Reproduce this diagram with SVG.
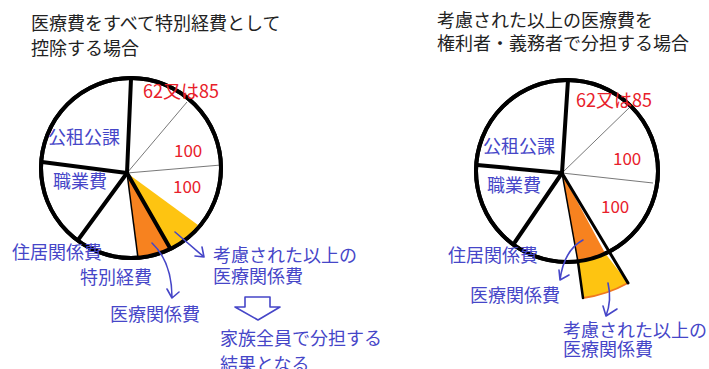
<svg xmlns="http://www.w3.org/2000/svg" width="709" height="369" viewBox="0 0 709 369">
<style>
text{font-family:"Noto Sans CJK JP","Noto Sans",sans-serif}
.title{font-size:18px;fill:#222}
.lbl{font-size:18px;fill:#4646c8}
.num{font-size:17px;fill:#e8202a}
.rim{fill:#fff;stroke:#000;stroke-width:4}
.rimo{fill:none;stroke:#000;stroke-width:4}
.spoke{stroke:#000;stroke-width:4;stroke-linecap:round}
.thin{stroke:#555;stroke-width:0.8}
.edge{stroke:#000;stroke-width:1.5}
.org{fill:#f7821f}
.yel{fill:#fec411}
.arr{fill:none;stroke:#4646c8;stroke-width:1.6;stroke-linecap:round;stroke-linejoin:round}
</style>
<rect width="709" height="369" fill="#fff"/>
<g id="title-left">
<text class="title" x="31" y="30">医療費をすべて特別経費として</text>
<text class="title" x="31" y="55">控除する場合</text>
</g>
<g id="title-right">
<text class="title" x="437" y="27">考慮された以上の医療費を</text>
<text class="title" x="437" y="50">権利者・義務者で分担する場合</text>
</g>
<g id="pie-left">
<circle class="rim" cx="131" cy="168" r="90"/>
<path class="org" d="M127,173 L138,258 A90,90 0 0 0 170,248 Z"/>
<path class="yel" d="M127,173 L170,248 A90,90 0 0 0 198,225 Z"/>
<line class="edge" x1="127" y1="173" x2="138" y2="258"/>
<line class="spoke" x1="127" y1="173" x2="170" y2="248"/>
<line class="thin" x1="127" y1="173" x2="187" y2="102"/>
<line class="thin" x1="127" y1="173" x2="221" y2="165"/>
<line class="spoke" x1="127" y1="173" x2="131" y2="79"/>
<line class="spoke" x1="127" y1="173" x2="42" y2="162"/>
<line class="spoke" x1="127" y1="173" x2="78" y2="240"/>
<circle class="rimo" cx="131" cy="168" r="90"/>
</g>
<g id="labels-left">
<text class="num" x="143" y="98" style="font-size:18px">62又は85</text>
<text class="num" x="174" y="157">100</text>
<text class="num" x="173" y="193">100</text>
<text class="lbl" x="48" y="144">公租公課</text>
<text class="lbl" x="53" y="188">職業費</text>
<text class="lbl" x="12" y="259">住居関係費</text>
<text class="lbl" x="80" y="284">特別経費</text>
<text class="lbl" x="213" y="262">考慮された以上の</text>
<text class="lbl" x="213" y="283">医療関係費</text>
<text class="lbl" x="110" y="321">医療関係費</text>
<text class="lbl" x="220" y="345">家族全員で分担する</text>
<text class="lbl" x="220" y="371">結果となる</text>
</g>
<g id="hollow-arrow">
<path class="arr" d="M245,297 L270,297 L270,307 L280,307 L258,320 L235,307 L245,307 Z"/>
</g>
<g id="pie-right">
<circle class="rim" cx="567" cy="171" r="91"/>
<path class="org" d="M562,173 L578,262 A91,91 0 0 0 605,253 Z"/>
<path class="yel" d="M578,262 L583,298 A127,127 0 0 0 628,283 L605,253 A91,91 0 0 1 578,262 Z"/>
<path d="M583,298 A127,127 0 0 0 628,283" fill="none" stroke="#f07820" stroke-width="2"/>
<line class="edge" x1="562" y1="173" x2="578" y2="262"/>
<line class="spoke" x1="578" y1="262" x2="583" y2="298" style="stroke-width:2.5"/>
<line class="spoke" x1="562" y1="173" x2="628" y2="283" style="stroke-width:3"/>
<line class="thin" x1="562" y1="173" x2="630" y2="107"/>
<line class="thin" x1="562" y1="173" x2="653" y2="183"/>
<line class="spoke" x1="562" y1="173" x2="568" y2="80"/>
<line class="spoke" x1="562" y1="173" x2="477" y2="165"/>
<line class="spoke" x1="562" y1="173" x2="515" y2="242"/>
<circle class="rimo" cx="567" cy="171" r="91"/>
</g>
<g id="labels-right">
<text class="num" x="576" y="107" style="font-size:18px">62又は85</text>
<text class="num" x="613" y="165">100</text>
<text class="num" x="601" y="213">100</text>
<text class="lbl" x="483" y="153">公租公課</text>
<text class="lbl" x="487" y="192">職業費</text>
<text class="lbl" x="448" y="262">住居関係費</text>
<text class="lbl" x="470" y="302">医療関係費</text>
<text class="lbl" x="563" y="337">考慮された以上の</text>
<text class="lbl" x="563" y="356">医療関係費</text>
</g>
<g id="connectors">
<path class="arr" d="M175,232 L204,257 M202,247 L204,257 L195,256"/>
<path class="arr" d="M152,243 Q172,262 172,298 M167,289 L172,298 L179,292"/>
<path class="arr" d="M583,240 Q564,250 560,280 M559,270 L560,280 L569,275"/>
<path class="arr" d="M608,283 Q612,300 606,316 M603,306 L606,316 L617,309"/>
</g>
</svg>
